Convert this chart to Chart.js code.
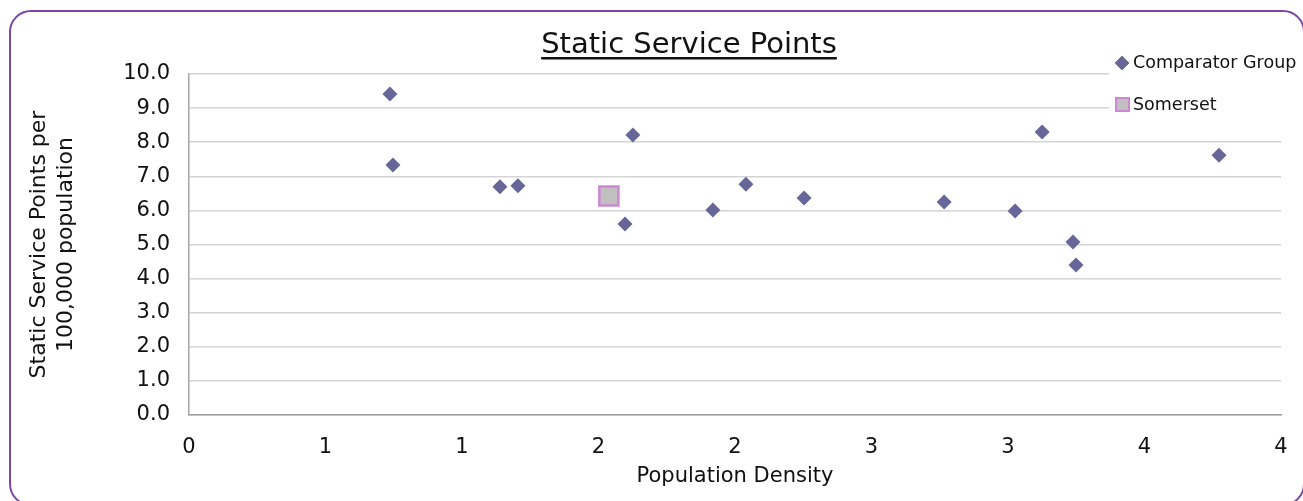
<!DOCTYPE html>
<html>
<head>
<meta charset="utf-8">
<script src="https://cdn.jsdelivr.net/npm/chart.js@4"></script>
<style>
    html, body { margin: 0; padding: 0; background: #fff; overflow: hidden; }
    #frame {
        position: absolute; left: 9px; top: 10px; width: 1296px; height: 496px;
        border: 2px solid #7D45A6; border-radius: 22px; box-sizing: border-box;
    }
    #wrap { position: absolute; left: 0; top: 0; width: 1303px; height: 501px; }
</style>
</head>
<body>
<div id="frame"></div>
<div id="wrap"><canvas id="scatterChart" width="1303" height="501"></canvas></div>
<script>
// Comparator group authorities (population density, service points per 100k)
const comparatorX = [0.736, 0.747, 1.139, 1.205, 1.626, 1.597, 1.919, 2.040, 2.253, 2.766, 3.026, 3.125, 3.238, 3.249, 3.773];
const comparatorY = [9.41, 7.33, 6.69, 6.72, 8.21, 5.60, 6.01, 6.77, 6.36, 6.25, 5.98, 8.30, 5.07, 4.40, 7.62];
const somersetX = [1.538];
const somersetY = [6.42];
const xTickLabels = ['0', '1', '1', '2', '2', '3', '3', '4', '4'];
const yTickLabels = ['0.0', '1.0', '2.0', '3.0', '4.0', '5.0', '6.0', '7.0', '8.0', '9.0', '10.0'];
const seriesNames = ['Comparator Group', 'Somerset'];

const FONT = 'DejaVu Sans';

function toPoints(xs, ys) {
    return xs.map((x, i) => ({ x: x, y: ys[i] }));
}

// Underlined title plus the Excel-style legend sitting over the top right of the plot
const decorations = {
    id: 'decorations',
    afterDatasetsDraw(chart) {
        const ctx = chart.ctx;
        ctx.save();
        // legend box covers the top gridlines
        ctx.fillStyle = '#fff';
        ctx.fillRect(1109, 50, 194, 75);

        ctx.font = '17.5px "' + FONT + '"';
        ctx.fillStyle = '#111';
        ctx.textBaseline = 'middle';
        ctx.textAlign = 'left';
        ctx.fillText(seriesNames[0], 1133, 63);
        ctx.fillText(seriesNames[1], 1133, 105);

        Chart.helpers.drawPoint(ctx, { pointStyle: 'rectRot', radius: 7, borderWidth: 0 }, 1122, 63);
        ctx.fillStyle = '#666699';
        ctx.fill();

        ctx.fillStyle = '#C0C0C0';
        ctx.strokeStyle = '#CC88D4';
        ctx.lineWidth = 2;
        ctx.fillRect(1117, 99, 11, 11);
        ctx.strokeRect(1116, 98, 13, 13);

        // title
        ctx.font = '29px "' + FONT + '"';
        ctx.fillStyle = '#111';
        ctx.textAlign = 'center';
        ctx.fillText('Static Service Points', 689, 45);
        const w = ctx.measureText('Static Service Points').width;
        ctx.fillRect(689 - w / 2, 57, w, 2.5);
        ctx.restore();
    }
};

const chartCtx = document.getElementById('scatterChart').getContext('2d');
const scatterChart = new Chart(chartCtx, {
    type: 'scatter',
    data: {
        datasets: [{
            label: seriesNames[0],
            data: toPoints(comparatorX, comparatorY),
            pointStyle: 'rectRot',
            pointRadius: 7.5,
            pointHoverRadius: 7.5,
            backgroundColor: '#666699',
            borderColor: '#666699',
            borderWidth: 0
        }, {
            label: seriesNames[1],
            data: toPoints(somersetX, somersetY),
            pointStyle: 'rect',
            pointRadius: 13.5,
            pointHoverRadius: 13.5,
            backgroundColor: '#C0C0C0',
            borderColor: '#CC88D4',
            borderWidth: 2.5
        }]
    },
    options: {
        responsive: false,
        animation: false,
        layout: { padding: { top: 74, right: 22, bottom: 0, left: 0 } },
        plugins: {
            legend: { display: false },
            title: { display: false },
            tooltip: { enabled: false }
        },
        scales: {
            x: {
                type: 'linear',
                min: 0,
                max: 4,
                afterFit: (scale) => {
                    scale.height = 86;
                    // tick padding is vertical here, don't let it eat the right margin
                    scale.paddingLeft = 0;
                    scale.paddingRight = 0;
                },
                ticks: {
                    stepSize: 0.5,
                    padding: 20,
                    color: '#111',
                    font: { family: FONT, size: 21 },
                    callback: (value, index) => xTickLabels[index]
                },
                grid: { display: false, drawTicks: false },
                border: { color: '#9E9E9E', width: 1.5 },
                title: {
                    display: true,
                    text: 'Population Density',
                    color: '#111',
                    font: { family: FONT, size: 21 },
                    padding: { top: 0, bottom: 12 }
                }
            },
            y: {
                min: 0,
                max: 10,
                afterFit: (scale) => { scale.width = 189; },
                ticks: {
                    stepSize: 1,
                    padding: 19,
                    color: '#111',
                    font: { family: FONT, size: 21 },
                    callback: (value, index) => yTickLabels[index]
                },
                grid: { color: '#D4D4D4', lineWidth: 1.5, drawTicks: false },
                border: { color: '#A6A6A6', width: 1.5 },
                title: {
                    display: true,
                    text: ['Static Service Points per', '100,000 population'],
                    color: '#111',
                    font: { family: FONT, size: 22, lineHeight: 1.23 },
                    padding: { top: 26, bottom: 0 }
                }
            }
        }
    },
    plugins: [decorations]
});
</script>
</body>
</html>
